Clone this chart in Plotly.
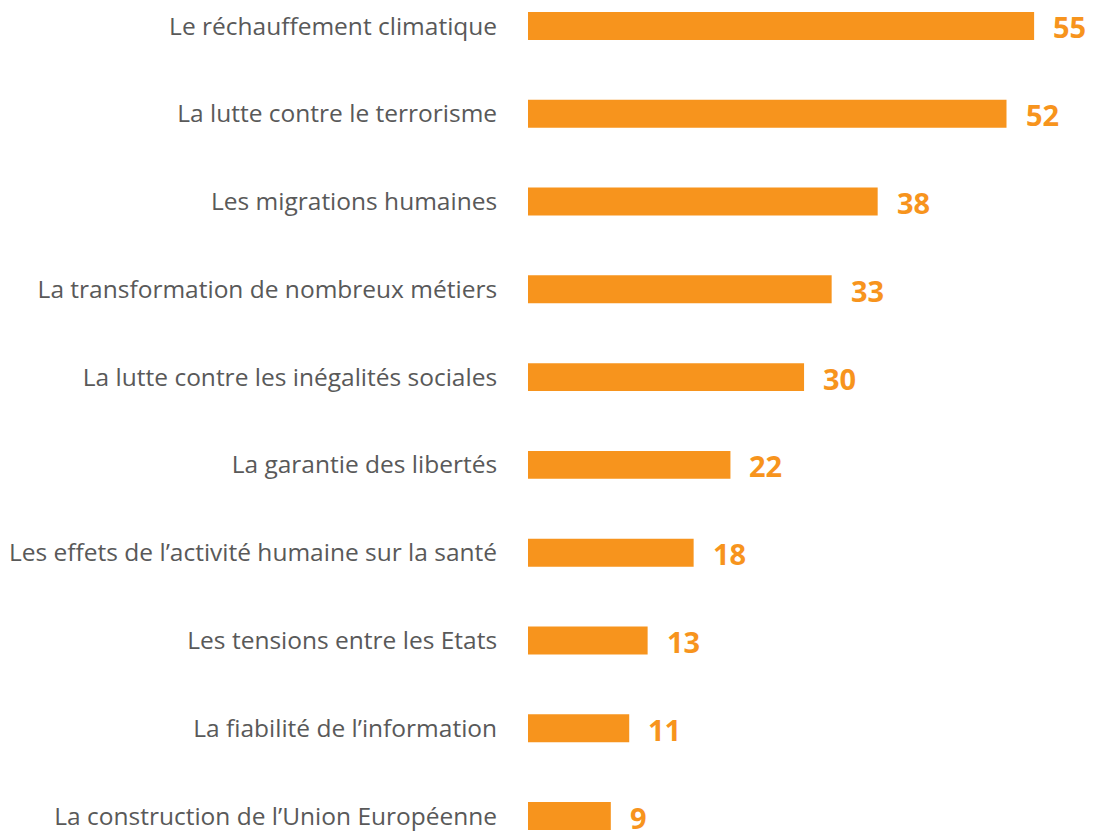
import plotly.graph_objects as go

categories = [
    "Le réchauffement climatique",
    "La lutte contre le terrorisme",
    "Les migrations humaines",
    "La transformation de nombreux métiers",
    "La lutte contre les inégalités sociales",
    "La garantie des libertés",
    "Les effets de l\u2019activité humaine sur la santé",
    "Les tensions entre les Etats",
    "La fiabilité de l\u2019information",
    "La construction de l\u2019Union Européenne",
]
values = [55, 52, 38, 33, 30, 22, 18, 13, 11, 9]

ORANGE = "#F7941D"
GREY = "#595959"
FONT = "Open Sans"

pos = list(range(len(categories)))

fig = go.Figure(go.Bar(
    x=values, y=pos, orientation="h",
    marker=dict(color=ORANGE, line=dict(width=0)),
    width=0.318, hoverinfo="skip",
))

for v, p in zip(values, pos):
    fig.add_annotation(x=v, y=p, text=f"<b>{v}</b>", showarrow=False,
                       xanchor="left", yanchor="middle", xshift=17, yshift=-1,
                       font=dict(family=FONT, size=29, color=ORANGE))

fig.update_layout(
    width=1085, height=824,
    margin=dict(l=520, r=0, t=0, b=0),
    paper_bgcolor="white", plot_bgcolor="white",
    showlegend=False,
    xaxis=dict(range=[0, 61.4], visible=False, fixedrange=True),
    yaxis=dict(range=[9.159, -0.2045], tickvals=pos, ticktext=categories,
               showgrid=False, zeroline=False, showline=False,
               ticks="outside", ticklen=25, tickcolor="rgba(0,0,0,0)",
               ticklabeloverflow="allow",
               tickfont=dict(family=FONT, size=24.5, color=GREY)),
)

fig.write_html("out.html")
